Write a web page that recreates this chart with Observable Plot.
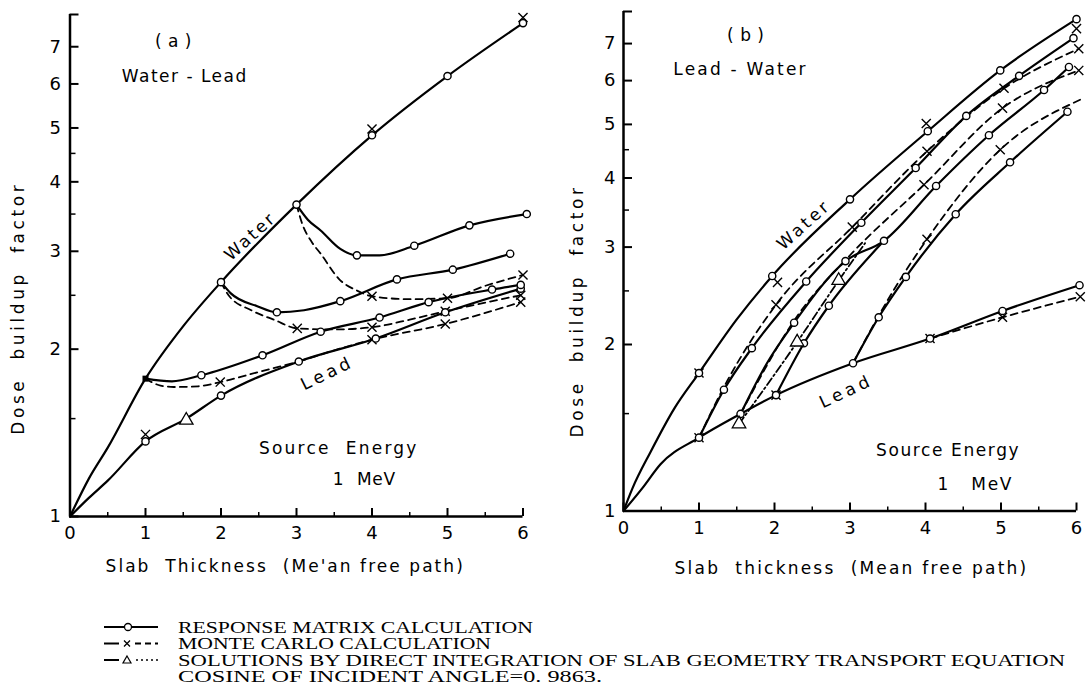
<!DOCTYPE html>
<html><head><meta charset="utf-8">
<script src="https://cdn.jsdelivr.net/npm/d3@7"></script>
<script src="https://cdn.jsdelivr.net/npm/@observablehq/plot@0.6"></script>
<style>
body{margin:0;background:#fff;}
#wrap{width:1088px;height:685px;position:relative;overflow:hidden;background:#fff;}
#panels{display:flex;width:1088px;height:585px;}
#panels svg{overflow:visible;}
#legend{position:absolute;left:0;top:585px;}
</style></head><body>
<div id="wrap"><div id="panels"></div><svg id="legend" width="1088" height="100"></svg></div>
<script>
// ---------- axis ticks ----------
const xTicks = [0, 1, 2, 3, 4, 5, 6];
const xMinor = [0.5, 1.5, 2.5, 3.5, 4.5, 5.5];
const yTicks = [1, 2, 3, 4, 5, 6, 7, 8];
const yMinor = [1.5, 2.5, 3.5, 4.5];

// ---------- panel (a) Water - Lead ----------
const aWaterX = [0, 0.25, 0.5, 1, 1.5, 2, 3, 4, 5, 6];
const aWaterY = [1, 1.17, 1.33, 1.77, 2.2, 2.64, 3.64, 4.85, 6.2, 7.72];
const aWaterRmX = [2, 3, 4, 5, 6];
const aWaterRmY = [2.64, 3.64, 4.85, 6.2, 7.72];
const aWaterMcX = [4, 6];
const aWaterMcY = [4.98, 7.9];
const aLeadX = [0, 0.25, 0.5, 1, 1.54, 2, 3.03, 4.05, 4.97, 5.97];
const aLeadY = [1, 1.08, 1.16, 1.365, 1.5, 1.65, 1.9, 2.09, 2.33, 2.57];
const aLeadRmX = [1, 2, 3.03, 4.05, 4.97, 5.97];
const aLeadRmY = [1.365, 1.65, 1.9, 2.09, 2.33, 2.57];
const aLeadMcLineX = [3.03, 4, 4.97, 5.97];
const aLeadMcLineY = [1.9, 2.08, 2.22, 2.43];
const aLeadMcX = [1, 4, 4.97, 5.97];
const aLeadMcY = [1.405, 2.08, 2.22, 2.43];
const aLeadDiX = [1.54];
const aLeadDiY = [1.49];
const aW1RmX = [1, 1.35, 1.74, 2.55, 3.32, 4.1, 4.75, 5.59, 5.97];
const aW1RmY = [1.77, 1.75, 1.795, 1.95, 2.15, 2.28, 2.43, 2.56, 2.61];
const aW1McX = [1, 1.2, 1.375, 1.7, 1.99, 2.5, 3.03];
const aW1McY = [1.77, 1.72, 1.71, 1.715, 1.745, 1.82, 1.9];
const aW2RmX = [2, 2.13, 2.48, 2.74, 3.1, 3.58, 4.33, 5.07, 5.83];
const aW2RmY = [2.64, 2.52, 2.39, 2.33, 2.35, 2.44, 2.67, 2.78, 2.97];
const aW2McX = [2, 2.1, 2.4, 2.7, 3.01, 3.5, 4, 4.5, 4.97, 5.97];
const aW2McY = [2.64, 2.5, 2.35, 2.26, 2.18, 2.17, 2.19, 2.26, 2.34, 2.5];
const aW3RmX = [3, 3.15, 3.32, 3.58, 3.8, 4.1, 4.56, 5.29, 6.05];
const aW3RmY = [3.64, 3.42, 3.27, 3.03, 2.95, 2.95, 3.07, 3.34, 3.5];
const aW3McX = [3, 3.08, 3.2, 3.32, 3.58, 3.8, 4, 4.5, 5, 5.5, 6];
const aW3McY = [3.64, 3.35, 3.12, 2.97, 2.66, 2.55, 2.49, 2.46, 2.47, 2.6, 2.72];

// ---------- panel (b) Lead - Water ----------
const bWaterX = [0, 0.12, 0.36, 0.67, 1, 1.5, 1.97, 3, 4.03, 4.99, 6];
const bWaterY = [1, 1.1, 1.28, 1.53, 1.776, 2.22, 2.66, 3.66, 4.86, 6.26, 7.75];
const bWaterRmX = [1, 1.97, 3, 4.03, 4.99, 6];
const bWaterRmY = [1.776, 2.66, 3.66, 4.86, 6.26, 7.75];
const bWaterMcX = [1, 2.04, 4.01, 6];
const bWaterMcY = [1.776, 2.59, 5.02, 7.45];
const bLeadX = [0, 0.25, 0.49, 1, 1.55, 2.02, 3.04, 4.06, 5.02, 6.04];
const bLeadY = [1, 1.1, 1.215, 1.357, 1.498, 1.62, 1.85, 2.05, 2.3, 2.56];
const bLeadMcLineX = [4.06, 5.02, 6.05];
const bLeadMcLineY = [2.05, 2.24, 2.44];
const bLeadMcX = [1, 2.02, 4.06, 5.02, 6.05];
const bLeadMcY = [1.357, 1.62, 2.05, 2.24, 2.44];
const bLeadDiX = [1.53];
const bLeadDiY = [1.437];
const bL1RmX = [1, 1.33, 1.7, 2.42, 3.15, 3.87, 4.54, 5.24, 5.96];
const bL1RmY = [1.357, 1.657, 1.97, 2.6, 3.32, 4.17, 5.18, 6.12, 7.16];
const bL1McX = [1, 1.37, 2.02, 3.03, 4.02, 5.04, 6.03];
const bL1McY = [1.357, 1.715, 2.36, 3.26, 4.47, 5.81, 6.85];
const bL15RmX = [1.55, 1.9, 2.26, 2.94, 3.45, 4.14, 4.84, 5.57, 5.9];
const bL15RmY = [1.498, 1.85, 2.19, 2.83, 3.08, 3.87, 4.78, 5.77, 6.35];
const bL15McX = [1.55, 2.3, 3.0, 3.98, 5.02, 6.03];
const bL15McY = [1.498, 2.25, 2.9, 3.89, 5.35, 6.26];
const bL15DiX = [1.53, 2.3, 2.85, 3.2];
const bL15DiY = [1.437, 2.02, 2.61, 3.05];
const bL2RmX = [2.02, 2.39, 2.72, 3.45];
const bL2RmY = [1.62, 2.01, 2.35, 3.08];
const bL3RmX = [3.04, 3.38, 3.74, 4.4, 5.12, 5.88];
const bL3RmY = [1.85, 2.24, 2.65, 3.44, 4.27, 5.27];
const bL3McX = [3.04, 3.4, 3.74, 4.02, 4.99, 6.06];
const bL3McY = [1.85, 2.28, 2.72, 3.1, 4.5, 5.55];

// ---------- texts (positions in data units) ----------
const aNotes = [
  {x: 1.37, y: 7.15, t: "( a )", ls: 0.5, r: 0},
  {x: 1.52, y: 6.19, t: "Water - Lead", ls: 1.5, r: 0},
  {x: 2.39, y: 3.19, t: "Water", ls: 2.5, r: -42},
  {x: 3.41, y: 1.81, t: "Lead", ls: 4, r: -26},
  {x: 3.56, y: 1.327, t: "Source  Energy", ls: 2.2, r: 0},
  {x: 3.9, y: 1.164, t: "1  MeV", ls: 0.8, r: 0},
  {x: 2.85, y: 0.813, t: "Slab  Thickness  (Me'an free path)", ls: 2.05, r: 0},
  {x: -0.68, y: 2.37, t: "Dose  buildup  factor", ls: 3.6, r: -90}
];
const bNotes = [
  {x: 1.62, y: 7.23, t: "( b )", ls: 0.5, r: 0},
  {x: 1.55, y: 6.28, t: "Lead - Water", ls: 2.2, r: 0},
  {x: 2.39, y: 3.29, t: "Water", ls: 3, r: -42},
  {x: 2.95, y: 1.645, t: "Lead", ls: 4, r: -25},
  {x: 4.3, y: 1.284, t: "Source Energy", ls: 1.6, r: 0},
  {x: 4.66, y: 1.116, t: "1   MeV", ls: 1.7, r: 0},
  {x: 3.02, y: 0.787, t: "Slab  thickness  (Mean free path)", ls: 2.2, r: 0},
  {x: -0.61, y: 2.30, t: "Dose  buildup  factor", ls: 3.6, r: -90}
];
const legendLabels = [
  "RESPONSE MATRIX CALCULATION",
  "MONTE CARLO CALCULATION",
  "SOLUTIONS BY DIRECT INTEGRATION OF SLAB GEOMETRY TRANSPORT EQUATION",
  "COSINE OF INCIDENT ANGLE=0. 9863."
];

// ---------- helpers ----------
const pts = (xs, ys) => xs.map((x, i) => ({x, y: ys[i]}));
const FONT = "DejaVu Sans";
const solid = (xs, ys) => Plot.line(pts(xs, ys), {x: "x", y: "y", curve: "monotone-x", stroke: "black", strokeWidth: 2.2});
const dashed = (xs, ys) => Plot.line(pts(xs, ys), {x: "x", y: "y", curve: "monotone-x", stroke: "black", strokeWidth: 1.8, strokeDasharray: "7,5"});
const dashdot = (xs, ys) => Plot.line(pts(xs, ys), {x: "x", y: "y", curve: "monotone-x", stroke: "black", strokeWidth: 1.8, strokeDasharray: "8,3,2,3"});
const circles = (xs, ys) => Plot.dot(pts(xs, ys), {x: "x", y: "y", r: 3.6, fill: "white", stroke: "black", strokeWidth: 1.4});
const crosses = (xs, ys) => Plot.dot(pts(xs, ys), {x: "x", y: "y", symbol: "times", r: 4.2, stroke: "black", strokeWidth: 1.4});
const triangles = (xs, ys) => Plot.dot(pts(xs, ys), {x: "x", y: "y", symbol: "triangle", r: 5, fill: "white", stroke: "black", strokeWidth: 1.3});

function axes(tickPad) {
  return [
    Plot.ruleX([0], {stroke: "black", strokeWidth: 2.5}),
    Plot.ruleY([1], {stroke: "black", strokeWidth: 2.5}),
    Plot.axisX({ticks: xTicks, tickSize: 0, tickPadding: 10, fontSize: 18, tickFormat: d => String(d), label: null}),
    Plot.axisX({ticks: xTicks, tickSize: -8, strokeWidth: 2, tickFormat: () => "", label: null}),
    Plot.axisX({ticks: xMinor, tickSize: -4, strokeWidth: 1.5, tickFormat: () => "", label: null}),
    Plot.axisY({ticks: yTicks, tickSize: 0, tickPadding: tickPad, fontSize: 18, tickFormat: d => d === 8 ? "" : String(d), label: null}),
    Plot.axisY({ticks: yTicks, tickSize: -9, strokeWidth: 2, tickFormat: () => "", label: null}),
    Plot.axisY({ticks: yMinor, tickSize: -6, strokeWidth: 1.5, tickFormat: () => "", label: null})
  ];
}
const notes = list => Plot.text(list, {x: "x", y: "y", text: "t", rotate: "r", fontSize: 17, fill: "black"});

function makePlot(m, marks) {
  return Plot.plot({
    width: 544, height: 585,
    marginLeft: m[0], marginRight: m[1], marginTop: m[2], marginBottom: m[3],
    style: {fontFamily: FONT, fontSize: "17px", color: "black", background: "transparent", overflow: "visible"},
    x: {domain: [0, 6], axis: null, label: null},
    y: {type: "log", domain: [1, 8], axis: null, label: null},
    marks
  });
}

const plotA = makePlot([69.5, 21.5, 14, 69], [
  ...axes(9),
  solid(aWaterX, aWaterY),
  solid(aLeadX, aLeadY),
  dashed(aLeadMcLineX, aLeadMcLineY),
  solid(aW1RmX, aW1RmY),
  dashed(aW1McX, aW1McY),
  solid(aW2RmX, aW2RmY),
  dashed(aW2McX, aW2McY),
  solid(aW3RmX, aW3RmY),
  dashed(aW3McX, aW3McY),
  crosses(aWaterMcX, aWaterMcY),
  crosses(aLeadMcX, aLeadMcY),
  crosses([aW1McX[4]], [aW1McY[4]]),
  crosses([aW2McX[4], aW2McX[6], aW2McX[8], aW2McX[9]], [aW2McY[4], aW2McY[6], aW2McY[8], aW2McY[9]]),
  crosses([aW3McX[6], aW3McX[8], aW3McX[10]], [aW3McY[6], aW3McY[8], aW3McY[10]]),
  Plot.dot(pts([aW1RmX[0]], [aW1RmY[0]]), {x: "x", y: "y", symbol: "square", r: 3.4, fill: "black"}),
  circles(aWaterRmX, aWaterRmY),
  circles(aLeadRmX, aLeadRmY),
  circles(aW1RmX.slice(2), aW1RmY.slice(2)),
  circles([aW2RmX[3], ...aW2RmX.slice(5)], [aW2RmY[3], ...aW2RmY.slice(5)]),
  circles(aW3RmX.slice(4).filter((d, i) => i !== 1), aW3RmY.slice(4).filter((d, i) => i !== 1)),
  triangles(aLeadDiX, aLeadDiY),
  notes(aNotes)
]);

const plotB = makePlot([79, 12, 11, 74.5], [
  ...axes(8),
  solid(bWaterX, bWaterY),
  solid(bLeadX, bLeadY),
  dashed(bLeadMcLineX, bLeadMcLineY),
  solid(bL1RmX, bL1RmY),
  dashed(bL1McX, bL1McY),
  solid(bL15RmX, bL15RmY),
  dashed(bL15McX, bL15McY),
  dashdot(bL15DiX, bL15DiY),
  solid(bL2RmX, bL2RmY),
  solid(bL3RmX, bL3RmY),
  dashed(bL3McX, bL3McY),
  crosses(bWaterMcX, bWaterMcY),
  crosses(bLeadMcX, bLeadMcY),
  crosses(bL1McX.slice(2), bL1McY.slice(2)),
  crosses(bL15McX.slice(3), bL15McY.slice(3)),
  crosses(bL3McX.slice(3, 5), bL3McY.slice(3, 5)),
  circles(bWaterRmX, bWaterRmY),
  circles(bLeadX.slice(3), bLeadY.slice(3)),
  circles(bL1RmX.slice(1), bL1RmY.slice(1)),
  circles(bL15RmX.filter((d, i) => i !== 0 && i !== 1), bL15RmY.filter((d, i) => i !== 0 && i !== 1)),
  circles(bL2RmX.slice(1, 3), bL2RmY.slice(1, 3)),
  circles(bL3RmX.slice(1), bL3RmY.slice(1)),
  triangles(bLeadDiX, bLeadDiY),
  triangles(bL15DiX.slice(1, 3), bL15DiY.slice(1, 3)),
  notes(bNotes)
]);

function spacing(svg, list) {
  const map = new Map(list.map(d => [d.t, d.ls]));
  d3.select(svg).selectAll("text").each(function() {
    const t = this.textContent;
    if (map.has(t)) this.style.letterSpacing = map.get(t) + "px";
  });
}
spacing(plotA, aNotes);
spacing(plotB, bNotes);
document.getElementById("panels").append(plotA, plotB);

// ---------- legend ----------
const lg = d3.select("#legend");
const rowsY = [42, 58.5, 75, 91.5];
const textLen = [355, 313, 887, 424];
rowsY.forEach((cy, i) => {
  lg.append("text").attr("x", 178).attr("y", cy + 5.5).attr("textLength", textLen[i]).attr("lengthAdjust", "spacingAndGlyphs")
    .attr("font-family", "Liberation Serif").attr("font-size", 16).attr("fill", "black").text(legendLabels[i]);
});
// symbol 1: solid with circle
lg.append("line").attr("x1", 104).attr("x2", 158).attr("y1", rowsY[0]).attr("y2", rowsY[0]).attr("stroke", "black").attr("stroke-width", 2);
lg.append("circle").attr("cx", 128).attr("cy", rowsY[0]).attr("r", 3.5).attr("fill", "white").attr("stroke", "black").attr("stroke-width", 1.3);
// symbol 2: dashed with cross
lg.append("line").attr("x1", 104).attr("x2", 119).attr("y1", rowsY[1]).attr("y2", rowsY[1]).attr("stroke", "black").attr("stroke-width", 2);
lg.append("path").attr("d", `M${124},${rowsY[1] - 3}l6,6M${124},${rowsY[1] + 3}l6,-6`).attr("stroke", "black").attr("stroke-width", 1.3);
lg.append("line").attr("x1", 135).attr("x2", 158).attr("y1", rowsY[1]).attr("y2", rowsY[1]).attr("stroke", "black").attr("stroke-width", 2).attr("stroke-dasharray", "6,4");
// symbol 3: solid + triangle + dots
lg.append("line").attr("x1", 104).attr("x2", 119).attr("y1", rowsY[2]).attr("y2", rowsY[2]).attr("stroke", "black").attr("stroke-width", 2);
lg.append("path").attr("d", `M${127},${rowsY[2] - 4}l4,7h-8z`).attr("fill", "white").attr("stroke", "black").attr("stroke-width", 1.2);
lg.append("line").attr("x1", 136).attr("x2", 158).attr("y1", rowsY[2]).attr("y2", rowsY[2]).attr("stroke", "black").attr("stroke-width", 1.5).attr("stroke-dasharray", "2,3");
</script>
</body></html>
